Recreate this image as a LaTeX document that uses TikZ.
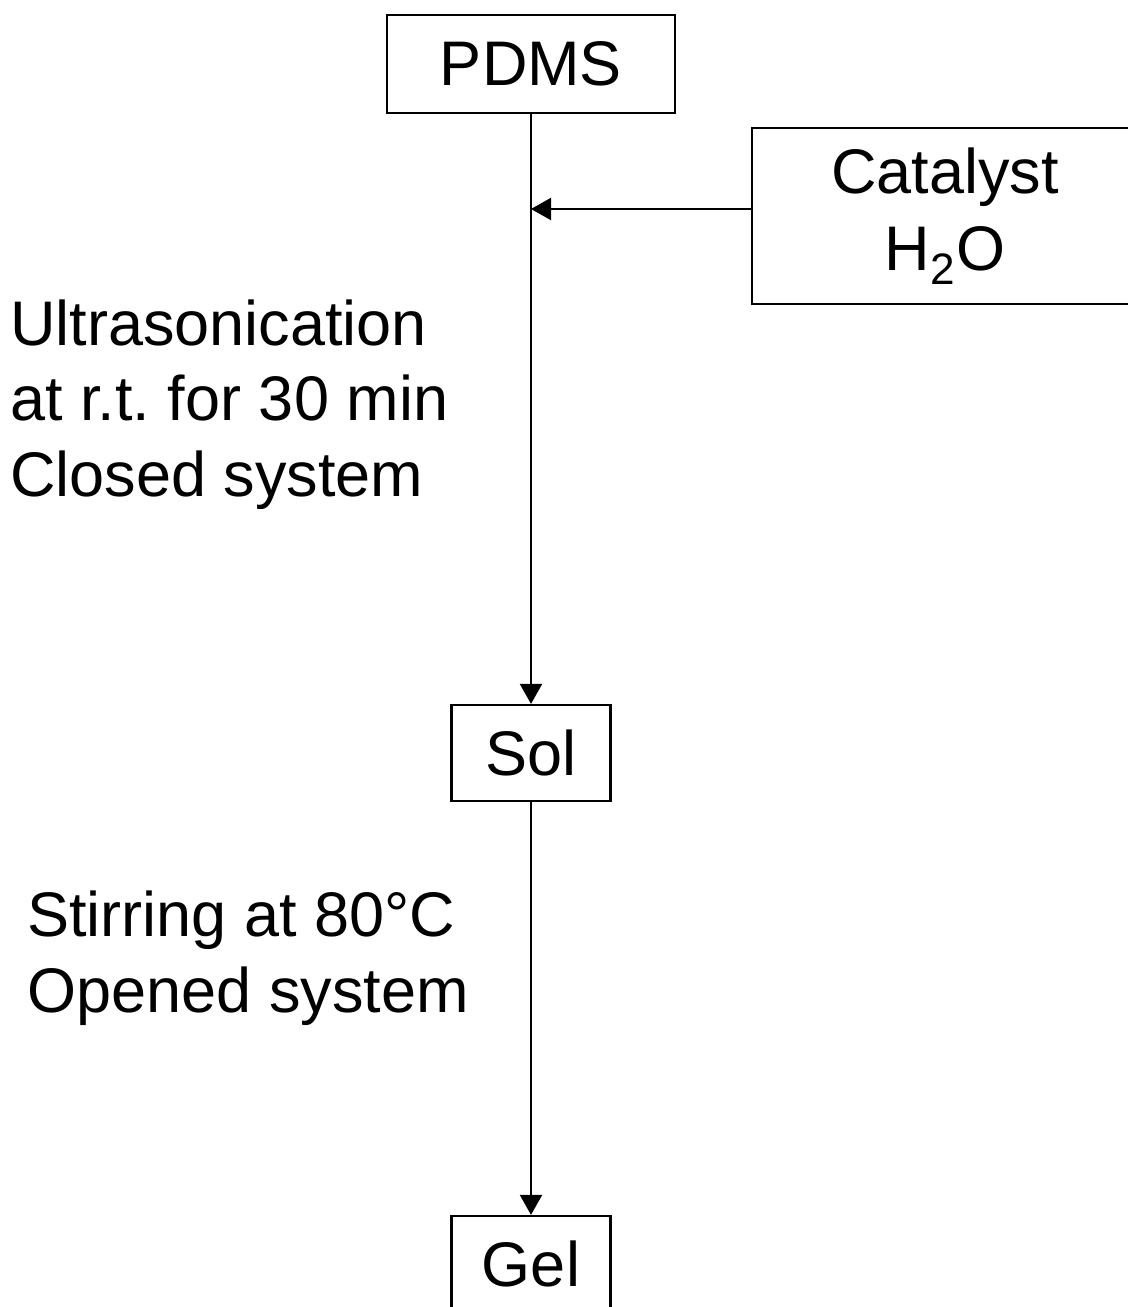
\documentclass[tikz,border=0pt]{standalone}
\usepackage{fontspec}
\setmainfont{Liberation Sans}
\frenchspacing
\usetikzlibrary{positioning,arrows.meta,calc}
\tikzset{
  stagebox/.style={draw=black,line width=1.1pt,inner sep=0pt,
                   font=\fontsize{31.5}{38.5}\selectfont,align=center},
  note/.style={inner sep=0pt,anchor=base west,align=left,
               font=\fontsize{31.5}{37.7}\selectfont},
  arr/.style={-{Triangle[length=10pt,width=11pt]},line width=1pt},
}
\begin{document}
\begin{tikzpicture}[x=0.5pt,y=-0.5pt]
  \useasboundingbox (0,0) rectangle (1128,1307);
  \node[stagebox,minimum width=144pt,minimum height=49pt] (pdms) at (531,64) {PDMS};
  \node[stagebox,minimum width=193pt,minimum height=88pt] (cat) at (945,216) {Catalyst\\H\textsubscript{2}O};
  \node[stagebox,minimum width=79.5pt,minimum height=48pt] (sol) at (531,753) {Sol};
  \node[stagebox,minimum width=79.5pt,minimum height=48pt] (gel) at (531,1264) {Gel};
  \coordinate (join) at (531,209);
  % process conditions
  \node[note] (ultra) at (10,496) {Ultrasonication\\at r.t. for 30 min\\Closed system};
  \node[note] (stir) at (27,1012) {Stirring at 80°C\\Opened system};
  \draw[arr] (pdms)--(sol);
  \draw[arr] (cat.west |- join)--(join);
  \draw[arr] (sol)--(gel);
\end{tikzpicture}
\end{document}
